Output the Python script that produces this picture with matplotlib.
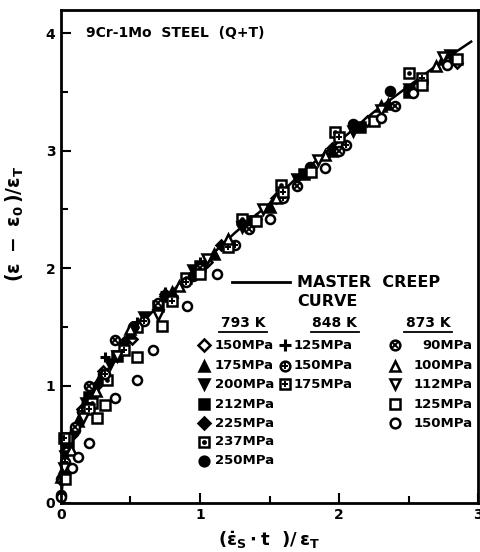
import matplotlib
matplotlib.use("Agg")
import matplotlib.pyplot as plt
from matplotlib.ticker import MultipleLocator

plt.rcParams['font.family'] = ['DejaVu Sans']
plt.rcParams['font.weight'] = 'bold'
plt.rcParams['mathtext.fontset'] = 'dejavusans'
plt.rcParams['mathtext.default'] = 'bf'

# master creep curve
master_x = [0, 0.01, 0.03, 0.06, 0.1, 0.2, 0.3, 0.5, 0.75, 1.0, 1.25, 1.5, 1.75, 2.0, 2.25, 2.5, 2.75, 2.95]
master_y = [0, 0.15, 0.35, 0.5, 0.62, 0.88, 1.07, 1.42, 1.75, 2.02, 2.3, 2.55, 2.83, 3.08, 3.33, 3.55, 3.77, 3.93]

# 793 K
x793_150 = [0.04, 0.15, 0.3, 0.51, 0.75, 1.05, 1.4, 1.8, 2.2, 2.55, 2.85]
y793_150 = [0.45, 0.8, 1.12, 1.4, 1.76, 2.05, 2.42, 2.85, 3.25, 3.55, 3.75]
x793_175 = [0.02, 0.12, 0.28, 0.5, 0.8, 1.1, 1.5, 1.95, 2.35, 2.75]
y793_175 = [0.3, 0.7, 1.06, 1.45, 1.8, 2.12, 2.52, 3.0, 3.4, 3.78]
x793_200 = [0.03, 0.18, 0.35, 0.6, 0.95, 1.3, 1.7, 2.1, 2.5, 2.8]
y793_200 = [0.4, 0.85, 1.18, 1.58, 1.98, 2.35, 2.76, 3.17, 3.53, 3.82]
x793_212 = [0.05, 0.2, 0.4, 0.7, 1.0, 1.35, 1.75, 2.15, 2.5]
y793_212 = [0.52, 0.9, 1.25, 1.68, 2.02, 2.4, 2.8, 3.2, 3.5]
x793_225 = [0.08, 0.25, 0.45, 0.75, 1.15, 1.55, 1.95]
y793_225 = [0.58, 1.0, 1.37, 1.78, 2.2, 2.6, 3.02]
x793_237 = [0.04, 0.22, 0.33, 0.55, 0.9, 1.3, 1.58, 1.97, 2.5]
y793_237 = [0.55, 0.85, 1.05, 1.5, 1.92, 2.42, 2.71, 3.16, 3.66]
x793_250 = [0.0, 0.1, 0.3, 0.52, 0.95, 1.3, 1.79, 2.1, 2.37]
y793_250 = [0.07, 0.62, 1.1, 1.5, 1.93, 2.38, 2.86, 3.23, 3.51]

# 848 K
x848_125 = [0.05, 0.18, 0.32, 0.55, 0.75, 1.0]
y848_125 = [0.5, 0.85, 1.24, 1.54, 1.8, 2.05]
x848_150 = [0.03, 0.15, 0.32, 0.6, 0.9, 1.25, 1.6, 2.05]
y848_150 = [0.35, 0.78, 1.1, 1.55, 1.88, 2.2, 2.6, 3.05]
x848_175 = [0.02, 0.2, 0.45, 0.8, 1.2, 1.6, 2.0, 2.6]
y848_175 = [0.55, 0.8, 1.3, 1.72, 2.18, 2.65, 3.12, 3.62]

# 873 K
x873_90 = [0.0, 0.1, 0.2, 0.39, 0.7, 1.0, 1.35, 1.7, 2.0, 2.4]
y873_90 = [0.2, 0.65, 1.0, 1.39, 1.7, 2.0, 2.33, 2.7, 3.0, 3.38]
x873_100 = [0.0, 0.07, 0.25, 0.5, 0.85, 1.2, 1.55, 1.9, 2.3, 2.7]
y873_100 = [0.22, 0.45, 0.95, 1.48, 1.85, 2.25, 2.6, 2.96, 3.38, 3.72]
x873_112 = [0.02, 0.16, 0.4, 0.7, 1.05, 1.45, 1.85, 2.3, 2.75]
y873_112 = [0.3, 0.72, 1.25, 1.6, 2.08, 2.5, 2.92, 3.35, 3.8]
x873_125 = [0.03, 0.26, 0.32, 0.55, 0.73, 1.0, 1.4, 1.8, 2.25, 2.6, 2.85]
y873_125 = [0.2, 0.72, 0.83, 1.24, 1.51, 1.95, 2.4, 2.82, 3.25, 3.56, 3.78]
x873_150 = [0.0, 0.08, 0.12, 0.2, 0.39, 0.55, 0.66, 0.91, 1.12, 1.5, 1.9, 2.3, 2.53, 2.78]
y873_150 = [0.05, 0.3, 0.39, 0.51, 0.89, 1.05, 1.3, 1.68, 1.95, 2.42, 2.85, 3.28, 3.49, 3.73]

# marker styles: (marker, filled, overlay)
styles = {
    'D_open': ('D', False, None),
    '^_fill': ('^', True, None),
    'v_fill': ('v', True, None),
    's_fill': ('s', True, None),
    'D_fill': ('D', True, None),
    's_dot': ('s', False, '.'),
    'o_fill': ('o', True, None),
    'plus': ('+', True, None),
    'o_plus': ('o', False, '+'),
    's_plus': ('s', False, '+'),
    'o_x': ('o', False, 'x'),
    '^_open': ('^', False, None),
    'v_open': ('v', False, None),
    's_open': ('s', False, None),
    'o_open': ('o', False, None),
}

series = [
    (x793_150, y793_150, 'D_open', '150MPa'),
    (x793_175, y793_175, '^_fill', '175MPa'),
    (x793_200, y793_200, 'v_fill', '200MPa'),
    (x793_212, y793_212, 's_fill', '212MPa'),
    (x793_225, y793_225, 'D_fill', '225MPa'),
    (x793_237, y793_237, 's_dot', '237MPa'),
    (x793_250, y793_250, 'o_fill', '250MPa'),
    (x848_125, y848_125, 'plus', '125MPa'),
    (x848_150, y848_150, 'o_plus', '150MPa'),
    (x848_175, y848_175, 's_plus', '175MPa'),
    (x873_90, y873_90, 'o_x', '90MPa'),
    (x873_100, y873_100, '^_open', '100MPa'),
    (x873_112, y873_112, 'v_open', '112MPa'),
    (x873_125, y873_125, 's_open', '125MPa'),
    (x873_150, y873_150, 'o_open', '150MPa'),
]


def draw(ax, x, y, key, ms=6.5):
    m, filled, over = styles[key]
    size = ms - 1 if m == 'D' else ms
    if m == '+':
        ax.plot(x, y, ls='none', marker='+', ms=ms + 1, mew=2.2, color='black', clip_on=False)
        return
    ax.plot(x, y, ls='none', marker=m, ms=size, mew=1.8, mec='black',
            mfc='black' if filled else 'white', clip_on=False)
    if over is not None:
        ax.plot(x, y, ls='none', marker=over, ms=size * 0.6, mew=1.4, color='black', clip_on=False)


fig = plt.figure(figsize=(4.8, 5.52), dpi=100)
ax = fig.add_axes([0.127, 0.089, 0.869, 0.893])

ax.plot(master_x, master_y, color='black', lw=1.8)
for x, y, key, lab in series:
    draw(ax, x, y, key)

ax.set_xlim(0, 3)
ax.set_ylim(0, 4.2)
ax.xaxis.set_major_locator(MultipleLocator(1))
ax.xaxis.set_minor_locator(MultipleLocator(0.5))
ax.yaxis.set_major_locator(MultipleLocator(1))
ax.yaxis.set_minor_locator(MultipleLocator(0.5))
ax.tick_params(which='both', direction='in', width=1.5, labelsize=10, pad=4)
ax.tick_params(which='major', length=7)
ax.tick_params(which='minor', length=5)
for s in ax.spines.values():
    s.set_linewidth(2)
for lab in ax.get_xticklabels() + ax.get_yticklabels():
    lab.set_fontweight('bold')

ax.set_xlabel(r'$(\dot{\epsilon}_S\cdot t\ \ )/\,\epsilon_T$', fontsize=13, labelpad=5)
ax.set_ylabel(r'$(\epsilon\ -\ \epsilon_0\,)/\epsilon_T$', fontsize=13.5)
ax.yaxis.set_label_coords(-0.085, 0.565)

ax.text(0.18, 4.0, '9Cr-1Mo  STEEL  (Q+T)', fontsize=10, fontweight='bold', va='center')

# legend drawn by hand
ax.plot([1.23, 1.65], [1.88, 1.88], color='black', lw=2)
ax.text(1.70, 1.88, 'MASTER  CREEP', fontsize=11.5, fontweight='bold', va='center')
ax.text(1.70, 1.72, 'CURVE', fontsize=11.5, fontweight='bold', va='center')

headers = ['793 K', '848 K', '873 K']
head_x = [1.31, 1.97, 2.64]
for h, hx in zip(headers, head_x):
    ax.text(hx, 1.53, h, fontsize=10, fontweight='bold', ha='center', va='center')
    ax.plot([hx - 0.17, hx + 0.17], [1.455, 1.455], color='black', lw=1.3)

row_y = [1.345, 1.17, 1.01, 0.84, 0.68, 0.52, 0.36]
cols = [(series[0:7], 1.03, 1.105, 'left'),
        (series[7:10], 1.61, 1.675, 'left'),
        (series[10:15], 2.40, 2.96, 'right')]
for group, mx, tx, ha in cols:
    for (x, y, key, lab), ry in zip(group, row_y):
        draw(ax, [mx], [ry], key, ms=7)
        ax.text(tx, ry, lab, fontsize=9.5, fontweight='bold', ha=ha, va='center')

fig.savefig('out.png', dpi=100)
